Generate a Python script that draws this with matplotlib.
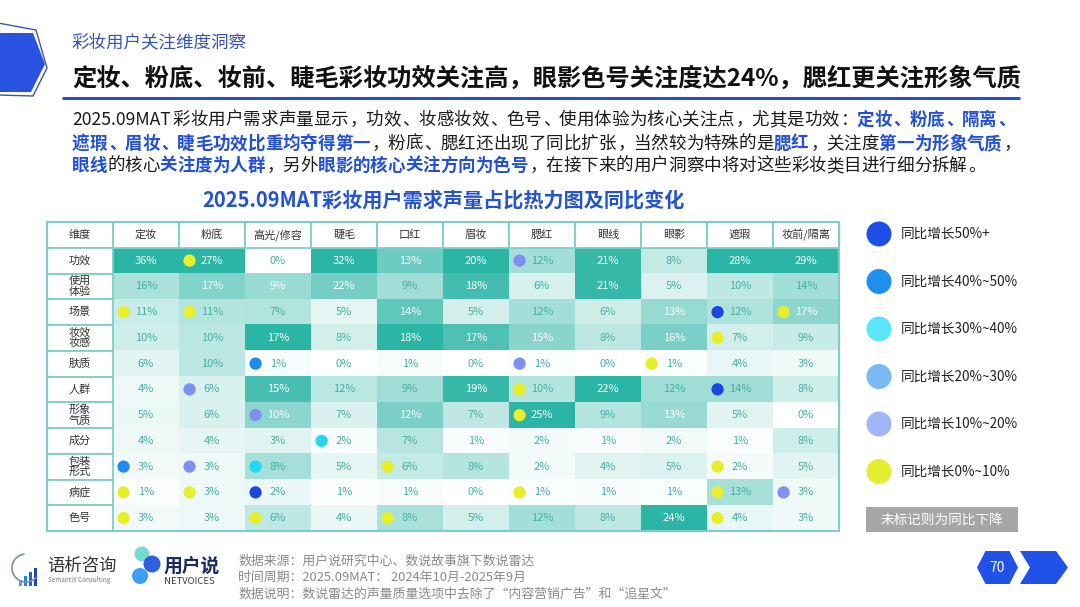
import numpy as np
import matplotlib
matplotlib.use("Agg")
import matplotlib.pyplot as plt
from matplotlib.patches import Rectangle, Polygon, Circle
from matplotlib.colors import to_rgb

plt.rcParams['font.family'] = ['Noto Sans CJK SC', 'DejaVu Sans']

# ---------------- data ----------------
categories = ['定妆', '粉底', '高光/修容', '睫毛', '口红', '眉妆', '腮红', '眼线', '眼影', '遮瑕', '妆前/隔离']
dimensions = ['功效', '使用\n体验', '场景', '妆效\n妆感', '肤质', '人群', '形象\n气质', '成分', '包装\n形式', '病症', '色号']
values = [
    [36, 27, 0, 32, 13, 20, 12, 21, 8, 28, 29],
    [16, 17, 9, 22, 9, 18, 6, 21, 5, 10, 14],
    [11, 11, 7, 5, 14, 5, 12, 6, 13, 12, 17],
    [10, 10, 17, 8, 18, 17, 15, 8, 16, 7, 9],
    [6, 10, 1, 0, 1, 0, 1, 0, 1, 4, 3],
    [4, 6, 15, 12, 9, 19, 10, 22, 12, 14, 8],
    [5, 6, 10, 7, 12, 7, 25, 9, 13, 5, 0],
    [4, 4, 3, 2, 7, 1, 2, 1, 2, 1, 8],
    [3, 3, 8, 5, 6, 8, 2, 4, 5, 2, 5],
    [1, 3, 2, 1, 1, 0, 1, 1, 1, 13, 3],
    [3, 3, 6, 4, 8, 5, 12, 8, 24, 4, 3],
]
# growth class: 0 none(decline), 1: 0-10%, 2: 10-20%, 3: 20-30%, 4: 30-40%, 5: 40-50%, 6: 50%+
growth = [
    [0, 1, 0, 0, 0, 0, 2, 0, 0, 0, 0],
    [0, 0, 0, 0, 0, 0, 0, 0, 0, 0, 0],
    [1, 1, 0, 0, 0, 0, 0, 0, 0, 6, 1],
    [0, 0, 0, 0, 0, 0, 0, 0, 0, 1, 0],
    [0, 0, 5, 0, 0, 0, 2, 0, 1, 0, 0],
    [0, 2, 0, 0, 0, 0, 1, 0, 0, 6, 0],
    [0, 0, 2, 0, 0, 0, 1, 0, 0, 0, 0],
    [0, 0, 0, 4, 0, 0, 0, 0, 0, 0, 0],
    [5, 2, 4, 0, 1, 0, 0, 0, 0, 1, 0],
    [1, 1, 6, 0, 0, 0, 1, 0, 0, 1, 2],
    [1, 0, 1, 0, 1, 0, 0, 0, 0, 1, 0],
]
legend_labels = ['同比增长50%+', '同比增长40%~50%', '同比增长30%~40%',
                 '同比增长20%~30%', '同比增长10%~20%', '同比增长0%~10%']
legend_classes = [6, 5, 4, 3, 2, 1]

page_title = '定妆、粉底、妆前、睫毛彩妆功效关注高，眼影色号关注度达24%，腮红更关注形象气质'
section = '彩妆用户关注维度洞察'
chart_title = '2025.09MAT彩妆用户需求声量占比热力图及同比变化'
para = [
    [('2025.09MAT彩妆用户需求声量显示，功效、妆感妆效、色号、使用体验为核心关注点，尤其是功效：', 0),
     ('定妆、粉底、隔离、', 1)],
    [('遮瑕、眉妆、睫毛功效比重均夺得第一', 1), ('，粉底、腮红还出现了同比扩张，当然较为特殊的是', 0),
     ('腮红', 1), ('，关注度', 0), ('第一为形象气质', 1), ('，', 0)],
    [('眼线', 1), ('的核心', 0), ('关注度为人群', 1), ('，另外', 0), ('眼影的核心关注方向为色号', 1),
     ('，在接下来的用户洞察中将对这些彩妆类目进行细分拆解。', 0)],
]
footer = ['数据来源：用户说研究中心、数说故事旗下数说雷达',
          '时间周期：2025.09MAT： 2024年10月-2025年9月',
          '数据说明：数说雷达的声量质量选项中去除了“内容营销广告”和“追星文”']

# ---------------- styles ----------------
BLUE = '#2350d8'
TEAL = '#2bb5a5'
BORDER = '#7ccfc6'
marker_colors = {1: '#e6ef2a', 2: '#7f90f0', 3: '#7bbcf5', 4: '#25d6f2', 5: '#2289ee', 6: '#1b46e0'}
legend_colors = {1: '#e4ef30', 2: '#a3b4f7', 3: '#7ab9f4', 4: '#5be5f8', 5: '#1f8ff0', 6: '#1e4ee8'}

W, H = 1080, 607
fig = plt.figure(figsize=(W / 100, H / 100), dpi=100)
fig.patch.set_facecolor('white')
ax0 = fig.add_axes([0, 0, 1, 1])
ax0.set_xlim(0, W)
ax0.set_ylim(H, 0)
ax0.axis('off')
renderer = fig.canvas.get_renderer()


def raw_width(s, size, weight='normal'):
    t = ax0.text(0, 0, s, fontsize=size, fontweight=weight)
    w = t.get_window_extent(renderer).width
    t.remove()
    return w


def fit_size(s, target, base=12, weight='normal'):
    return base * target / raw_width(s, base, weight)


PUNCT = set('，、：。“”；')


def is_wide(ch):
    return ord(ch) >= 0x2E80 or ch in PUNCT


def split_runs(line):
    """split rich segments into wide chars and latin runs"""
    runs = []
    for s, b in line:
        buf = ''
        for ch in s:
            if is_wide(ch):
                if buf:
                    runs.append((buf, b, False))
                    buf = ''
                runs.append((ch, b, True))
            else:
                buf += ch
        if buf:
            runs.append((buf, b, False))
    return runs


def draw_rich(line, x, y, em):
    size = em * 0.72
    for s, b, wide in split_runs(line):
        w = 'bold' if b else 'normal'
        col = BLUE if b else '#1a1a1a'
        if wide:
            if s in PUNCT:
                ax0.text(x + 0.1 * em, y, s, fontsize=size, fontweight=w, color=col,
                         ha='left', va='center_baseline')
            else:
                ax0.text(x + em / 2, y, s, fontsize=size, fontweight=w, color=col,
                         ha='center', va='center_baseline')
            x += em
        else:
            ax0.text(x + 0.04 * em, y, s, fontsize=size, fontweight=w, color=col,
                     ha='left', va='center_baseline')
            x += raw_width(s, size, w) + 0.12 * em
    return x


# ---------------- header decoration ----------------
ax0.add_patch(Polygon([(0, 33), (33, 33), (45, 64), (31, 92), (0, 92)], closed=True,
                      facecolor='#2a52e0', edgecolor='none'))
ax0.add_patch(Polygon([(-2, 23), (36, 30), (47, 68), (33, 96), (-2, 95)], closed=True,
                      facecolor='none', edgecolor='#3a55b8', lw=1))

ax0.text(72, 42, section, fontsize=fit_size(section, 175), color='#3553b8',
         ha='left', va='center')
ts = fit_size(page_title, 946, weight='bold')
ax0.text(72, 79, page_title, fontsize=ts, fontweight='bold', color='#111111',
         ha='left', va='center')
ax0.plot([62, 1020], [97.5, 97.5], color='#2a4fc8', lw=2.2, solid_capstyle='butt')

# paragraph: em derived from line 2 (all wide characters) spanning the text width
n_wide = sum(1 for s, b, wd in split_runs(para[1]) if wd)
em = 947 / n_wide
for line, yy in zip(para, [118, 142, 164]):
    draw_rich(line, 72, yy, em)

# chart title
ax0.text(443, 200, chart_title, fontsize=fit_size(chart_title, 482, weight='bold'),
         fontweight='bold', color='#2453cf', ha='center', va='center')

# ---------------- heatmap ----------------
x0, x1, y0, y1 = 47, 839, 222, 531
ax = fig.add_axes([x0 / W, 1 - y1 / H, (x1 - x0) / W, (y1 - y0) / H])
ax.set_xlim(-1.5, len(categories) - 0.5)
ax.set_ylim(len(dimensions) - 0.5, -1.5)
ax.axis('off')

vals = np.array(values, dtype=float)
norm = vals / vals.max(axis=0, keepdims=True)
shade = norm ** 1.15
teal = np.array(to_rgb(TEAL))
white = np.ones(3)
rgb = white[None, None, :] * (1 - shade[..., None]) + teal[None, None, :] * shade[..., None]
ax.imshow(rgb, extent=(-0.5, len(categories) - 0.5, len(dimensions) - 0.5, -0.5),
          aspect='auto', interpolation='nearest', zorder=1)

low_txt = '#45b0a2'
hi_txt = '#ffffff'
for r in range(len(dimensions)):
    for c in range(len(categories)):
        n = norm[r, c]
        col = hi_txt if n > 0.505 else low_txt
        ax.text(c, r, f'{values[r][c]}%', ha='center', va='center', fontsize=8,
                color=col, zorder=3)
        g = growth[r][c]
        if g:
            ax.scatter(c - 0.34, r, s=78, color=marker_colors[g], edgecolors='none', zorder=4)

# header row & first column
for c, name in enumerate(categories):
    ax.add_patch(Rectangle((c - 0.5, -1.5), 1, 1, facecolor='white', edgecolor=BORDER, lw=1.3, zorder=2))
    ax.text(c, -1, name, ha='center', va='center', fontsize=8, color='#333333', zorder=3)
ax.add_patch(Rectangle((-1.5, -1.5), 1, 1, facecolor='white', edgecolor=BORDER, lw=1.3, zorder=2))
ax.text(-1, -1, '维度', ha='center', va='center', fontsize=8, color='#333333', zorder=3)
for r, name in enumerate(dimensions):
    ax.add_patch(Rectangle((-1.5, r - 0.5), 1, 1, facecolor='white', edgecolor=BORDER, lw=1.3, zorder=2))
    ax.text(-1, r, name, ha='center', va='center', fontsize=8, color='#333333',
            linespacing=1.0, zorder=3)
ax.add_patch(Rectangle((-1.5, -1.5), len(categories) + 1, len(dimensions) + 1,
                       facecolor='none', edgecolor=BORDER, lw=1.5, zorder=5, clip_on=False))

# ---------------- legend ----------------
for i, (lab, cl) in enumerate(zip(legend_labels, legend_classes)):
    yy = 234 + i * 47.5
    ax0.add_patch(Circle((879, yy), 12.5, facecolor=legend_colors[cl], edgecolor='none'))
    ax0.text(901, yy, lab, fontsize=9.8, color='#222222', ha='left', va='center')
ax0.add_patch(Rectangle((866, 507), 152, 25, facecolor='#a6a6a6', edgecolor='none'))
ax0.text(942, 519.5, '未标记则为同比下降', fontsize=9.8, color='white', ha='center', va='center')

# ---------------- footer ----------------
for i, s in enumerate(footer):
    ax0.text(238, 561 + i * 16.5, s, fontsize=9.3, color='#8a8a8a', ha='left', va='center')

# 语析 logo
th = np.linspace(np.pi * 0.55, np.pi * 1.75, 40)
ax0.plot(26 + 14 * np.cos(th), 568 - 14 * np.sin(th), color='#7a8fb0', lw=1.2)
for k, (bx, bh) in enumerate([(19, 6), (24, 10), (29, 14), (34, 18)]):
    ax0.add_patch(Rectangle((bx, 586 - bh), 3.2, bh, facecolor=['#4aa0e8', '#2d7fe0', '#1f5fd0', '#1c44b8'][k],
                            edgecolor='none'))
ax0.text(47, 566, '语析咨询', fontsize=12.5, color='#333333', ha='left', va='center')
ax0.text(48, 580, 'SemantiX Consulting', fontsize=4.6, color='#777777', ha='left', va='center')

# 用户说 logo
ax0.add_patch(Circle((142, 554), 7.5, facecolor='#74dccf', edgecolor='none'))
ax0.add_patch(Circle((152, 564), 8.5, facecolor='#2f5fe0', edgecolor='none'))
ax0.add_patch(Circle((140, 576), 8, facecolor='#3d9ff2', edgecolor='none'))
ax0.text(164, 566, '用户说', fontsize=13.5, fontweight='bold', color='#1b2a5c', ha='left', va='center')
ax0.text(164, 581, 'NETVOICES', fontsize=6.8, color='#333a55', ha='left', va='center')

# page number
ax0.add_patch(Polygon([(977, 567.5), (985.5, 551), (1009.5, 551), (1018, 567.5), (1009.5, 584), (985.5, 584)],
                      closed=True, facecolor='#2152e8', edgecolor='none'))
ax0.add_patch(Polygon([(1020, 551), (1056, 551), (1068, 567.5), (1056, 584), (1020, 584), (1030, 567.5)],
                      closed=True, facecolor='#2152e8', edgecolor='none'))
ax0.text(997.5, 567.5, '70', fontsize=10, color='white', ha='center', va='center')

fig.savefig('out.png', dpi=100, facecolor='white')
